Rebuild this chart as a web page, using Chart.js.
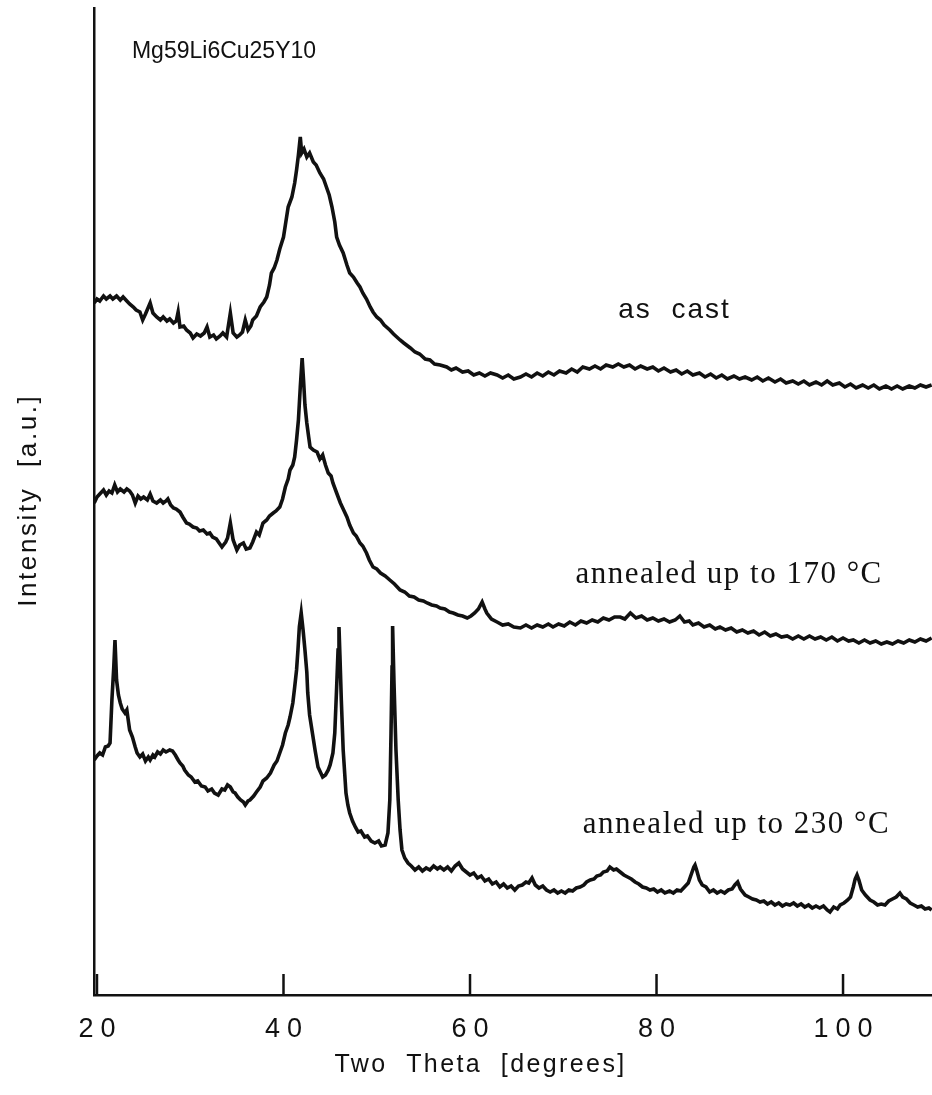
<!DOCTYPE html>
<html>
<head>
<meta charset="utf-8">
<script src="https://cdn.jsdelivr.net/npm/chart.js@4.4.1/dist/chart.umd.min.js"></script>
<style>
  html, body { margin: 0; padding: 0; background: #fff; }
  #wrap { width: 932px; height: 1095px; }
</style>
</head>
<body>
<div id="wrap"><canvas id="xrd" width="932" height="1095"></canvas></div>
<script>
// ---- axis ranges / ticks (two theta in degrees, intensity in a.u.)
const xTicks = [20, 40, 60, 80, 100];
const xMin = 19.68, xMax = 109.54;
const yMin = 0, yMax = 98.7;

// ---- XRD traces: [two theta, intensity]
const asCast = [[19.7,69.2],[20.0,69.6],[20.3,69.4],[20.7,69.9],[21.0,69.6],[21.4,69.9],[21.7,69.6],[22.1,69.9],[22.5,69.5],[22.8,69.8],[23.2,69.4],[23.5,69.1],[23.9,68.8],[24.2,68.5],[24.6,68.3],[24.9,67.5],[25.2,68.1],[25.7,69.2],[26.0,68.2],[26.4,67.8],[26.8,67.5],[27.1,67.8],[27.5,67.4],[27.8,67.6],[28.2,67.2],[28.5,67.4],[28.7,68.3],[28.9,66.8],[29.3,66.9],[29.6,66.5],[30.0,66.2],[30.3,65.7],[30.7,66.1],[31.1,65.9],[31.5,66.2],[31.8,66.8],[32.1,65.8],[32.5,66.0],[32.8,65.6],[33.2,65.9],[33.5,66.2],[33.9,65.8],[34.3,68.2],[34.6,66.2],[35.0,65.8],[35.3,66.0],[35.6,66.3],[35.9,67.5],[36.2,66.5],[36.5,66.9],[36.7,67.5],[37.1,67.9],[37.5,68.8],[37.9,69.3],[38.2,69.8],[38.5,71.0],[38.7,72.2],[39.0,72.7],[39.3,73.5],[39.6,74.6],[40.0,75.8],[40.2,77.0],[40.5,78.8],[40.9,79.8],[41.2,81.2],[41.4,82.5],[41.6,84.0],[41.8,85.8],[41.95,84.2],[42.2,84.6],[42.5,83.8],[42.8,84.2],[43.2,83.3],[43.5,83.0],[43.9,82.2],[44.3,81.6],[44.6,80.8],[44.9,80.0],[45.2,78.8],[45.5,77.3],[45.7,75.8],[46.0,75.0],[46.4,74.2],[46.8,73.0],[47.1,72.2],[47.5,71.8],[47.9,71.2],[48.2,70.8],[48.5,70.2],[48.9,69.6],[49.3,68.8],[49.6,68.3],[50.0,67.8],[50.4,67.5],[50.8,67.0],[51.4,66.5],[51.8,66.1],[52.5,65.5],[52.9,65.2],[53.6,64.7],[54.1,64.3],[54.6,64.1],[55.2,63.6],[55.7,63.5],[56.2,63.1],[56.8,63.0],[57.5,62.8],[58.0,62.5],[58.5,62.7],[59.2,62.3],[59.8,62.4],[60.4,62.0],[61.0,62.2],[61.6,61.9],[62.2,62.2],[62.9,62.0],[63.5,61.7],[64.1,62.0],[64.7,61.6],[65.4,61.8],[66.0,62.1],[66.6,61.8],[67.2,62.2],[67.8,61.9],[68.4,62.3],[69.0,62.0],[69.6,62.4],[70.3,62.2],[70.9,62.6],[71.5,62.3],[72.1,62.8],[72.8,62.6],[73.4,62.9],[74.0,62.6],[74.6,63.0],[75.3,62.8],[75.9,63.1],[76.5,62.8],[77.1,63.0],[77.7,62.6],[78.3,62.9],[79.0,62.6],[79.6,62.8],[80.2,62.4],[80.8,62.7],[81.5,62.3],[82.1,62.5],[82.7,62.1],[83.3,62.4],[83.9,62.0],[84.6,62.2],[85.2,61.8],[85.8,62.1],[86.4,61.7],[87.0,62.0],[87.6,61.6],[88.3,61.9],[88.9,61.6],[89.5,61.8],[90.2,61.5],[90.8,61.8],[91.4,61.4],[92.0,61.7],[92.7,61.3],[93.3,61.6],[93.9,61.2],[94.6,61.4],[95.2,61.1],[95.8,61.4],[96.4,61.0],[97.1,61.3],[97.7,61.0],[98.3,61.4],[98.9,61.0],[99.6,61.2],[100.2,60.8],[100.8,61.1],[101.4,60.7],[102.1,61.0],[102.7,60.7],[103.3,61.0],[103.9,60.6],[104.6,60.9],[105.2,60.6],[105.8,60.9],[106.4,60.6],[107.1,60.9],[107.7,60.7],[108.3,61.0],[108.9,60.8],[109.5,61.0]];

const annealed170 = [[19.7,49.2],[20.0,49.8],[20.3,50.1],[20.7,50.5],[21.0,50.0],[21.3,50.4],[21.6,50.2],[21.9,51.0],[22.2,50.3],[22.5,50.6],[22.9,50.3],[23.2,50.6],[23.5,50.4],[23.8,50.0],[24.1,49.2],[24.4,49.9],[24.7,49.6],[25.0,49.8],[25.4,49.5],[25.7,50.1],[26.0,49.4],[26.4,49.2],[26.8,49.5],[27.1,49.2],[27.4,49.4],[27.6,49.6],[27.9,49.0],[28.2,48.7],[28.5,48.6],[28.9,48.3],[29.2,47.8],[29.6,47.2],[29.9,47.1],[30.3,46.8],[30.7,46.7],[31.0,46.4],[31.4,46.5],[31.8,46.1],[32.1,46.2],[32.4,45.8],[32.8,45.6],[33.1,45.2],[33.4,44.8],[33.8,45.3],[34.0,45.7],[34.3,47.2],[34.6,45.5],[35.0,44.5],[35.3,45.0],[35.7,45.2],[36.0,44.6],[36.4,44.7],[36.7,45.3],[37.1,46.3],[37.4,46.0],[37.8,47.2],[38.2,47.5],[38.5,47.9],[38.9,48.2],[39.2,48.4],[39.6,48.8],[39.9,49.6],[40.2,50.8],[40.5,51.6],[40.7,52.5],[41.0,53.0],[41.2,53.8],[41.4,55.5],[41.6,57.5],[41.8,60.8],[42.0,63.7],[42.15,61.5],[42.3,59.0],[42.5,57.2],[42.7,55.8],[42.85,54.8],[43.2,54.5],[43.6,54.3],[43.9,53.6],[44.2,54.0],[44.5,53.0],[44.8,52.2],[45.1,51.9],[45.3,51.2],[45.7,50.2],[46.1,49.2],[46.4,48.6],[46.8,47.8],[47.1,47.0],[47.5,46.2],[47.8,45.9],[48.2,45.2],[48.5,44.9],[48.9,44.2],[49.2,43.5],[49.6,42.8],[50.0,42.6],[50.4,42.2],[50.9,41.9],[51.4,41.5],[51.9,41.1],[52.5,40.5],[53.0,40.3],[53.5,39.9],[54.0,39.8],[54.5,39.5],[55.0,39.4],[55.4,39.2],[55.9,39.0],[56.4,38.9],[56.8,38.7],[57.3,38.6],[57.8,38.3],[58.2,38.2],[58.7,38.0],[59.2,37.9],[59.7,37.7],[60.1,37.9],[60.5,38.2],[60.9,38.6],[61.3,39.3],[61.6,38.6],[61.8,38.2],[62.3,37.6],[62.9,37.3],[63.5,37.0],[64.1,37.1],[64.7,36.8],[65.4,36.7],[66.0,37.0],[66.6,36.7],[67.2,37.0],[67.8,36.8],[68.4,37.1],[68.9,36.8],[69.5,37.1],[70.1,36.9],[70.7,37.3],[71.3,37.0],[71.9,37.4],[72.5,37.2],[73.1,37.5],[73.7,37.3],[74.3,37.7],[74.9,37.5],[75.5,37.8],[76.1,37.8],[76.6,37.6],[77.2,38.2],[77.8,37.7],[78.4,37.9],[79.0,37.5],[79.6,37.7],[80.2,37.4],[80.8,37.6],[81.4,37.3],[82.0,37.5],[82.5,37.9],[83.0,37.3],[83.5,37.4],[83.9,37.0],[84.5,37.2],[85.1,36.8],[85.7,37.0],[86.3,36.6],[86.8,36.8],[87.4,36.5],[88.0,36.7],[88.6,36.3],[89.2,36.5],[89.8,36.2],[90.4,36.4],[91.0,36.0],[91.6,36.3],[92.2,35.9],[92.8,36.1],[93.4,35.8],[94.0,35.9],[94.6,35.6],[95.2,35.9],[95.8,35.6],[96.4,35.9],[97.0,35.6],[97.6,35.8],[98.2,35.5],[98.8,35.8],[99.4,35.4],[100.0,35.7],[100.6,35.4],[101.1,35.5],[101.7,35.2],[102.3,35.5],[102.9,35.2],[103.5,35.4],[104.1,35.1],[104.7,35.3],[105.3,35.1],[105.9,35.4],[106.5,35.2],[107.1,35.5],[107.7,35.3],[108.3,35.6],[108.9,35.4],[109.5,35.7]];

const annealed230 = [[19.7,23.5],[20.0,23.9],[20.3,24.2],[20.6,24.0],[20.9,24.8],[21.2,24.9],[21.4,25.2],[21.6,29.5],[21.8,32.8],[21.93,35.5],[22.1,31.5],[22.3,30.0],[22.5,29.2],[22.7,28.6],[23.0,28.2],[23.2,28.5],[23.5,26.5],[23.8,25.8],[24.1,24.8],[24.3,24.2],[24.6,23.8],[24.9,24.1],[25.2,23.4],[25.5,23.8],[25.7,23.5],[26.0,24.0],[26.2,23.8],[26.5,24.3],[26.8,24.1],[27.1,24.5],[27.4,24.3],[27.8,24.5],[28.1,24.4],[28.4,24.0],[28.7,23.5],[28.9,23.2],[29.2,22.9],[29.4,22.5],[29.8,22.0],[30.1,21.8],[30.5,21.3],[30.8,21.4],[31.2,20.9],[31.6,20.8],[31.9,20.4],[32.3,20.6],[32.6,20.2],[33.0,20.0],[33.4,20.6],[33.7,20.5],[34.0,21.0],[34.3,20.8],[34.6,20.3],[34.8,20.2],[35.1,19.8],[35.4,19.5],[35.7,19.3],[35.9,19.0],[36.2,19.4],[36.4,19.5],[36.8,19.9],[37.1,20.3],[37.5,20.8],[37.8,21.4],[38.2,21.7],[38.6,22.2],[39.0,23.0],[39.3,23.4],[39.6,24.2],[39.9,25.0],[40.2,26.2],[40.5,27.0],[40.7,27.8],[41.0,29.2],[41.2,30.8],[41.4,32.5],[41.55,34.5],[41.7,36.8],[41.9,38.2],[42.1,36.5],[42.3,34.5],[42.5,32.3],[42.6,30.2],[42.8,28.0],[43.1,26.2],[43.4,24.4],[43.7,22.8],[44.0,22.2],[44.2,21.8],[44.5,22.0],[44.8,22.5],[45.0,23.0],[45.3,24.2],[45.5,26.2],[45.7,30.8],[45.85,34.5],[45.95,36.8],[46.05,34.0],[46.2,29.5],[46.4,24.5],[46.7,20.2],[46.9,19.0],[47.1,18.2],[47.4,17.4],[47.7,16.8],[48.0,16.3],[48.3,16.4],[48.7,15.8],[49.0,15.9],[49.4,15.4],[49.8,15.2],[50.2,15.4],[50.5,14.9],[50.9,15.0],[51.2,16.2],[51.4,19.5],[51.53,26.2],[51.64,32.8],[51.7,36.9],[51.85,31.2],[52.06,24.5],[52.3,19.5],[52.5,16.5],[52.7,14.5],[53.0,13.7],[53.35,13.2],[53.7,12.9],[54.1,12.5],[54.5,12.8],[54.9,12.4],[55.3,12.7],[55.7,12.5],[56.1,12.9],[56.5,12.6],[56.8,12.8],[57.2,12.5],[57.6,12.8],[58.0,12.4],[58.4,12.9],[58.8,13.2],[59.2,12.6],[59.6,12.3],[60.0,12.0],[60.4,12.2],[60.8,11.7],[61.2,11.9],[61.6,11.4],[62.0,11.6],[62.4,11.1],[62.8,11.3],[63.2,10.8],[63.6,11.1],[64.0,10.7],[64.4,10.9],[64.8,10.5],[65.2,10.9],[65.6,11.0],[66.0,11.3],[66.3,11.2],[66.65,11.7],[67.0,11.0],[67.4,10.7],[67.8,10.9],[68.2,10.5],[68.6,10.3],[69.0,10.5],[69.4,10.2],[69.8,10.4],[70.2,10.2],[70.6,10.5],[71.0,10.4],[71.4,10.7],[71.8,10.8],[72.2,11.0],[72.5,11.3],[72.9,11.5],[73.3,11.6],[73.6,11.9],[74.0,12.0],[74.3,12.3],[74.7,12.4],[75.0,12.8],[75.4,12.5],[75.7,12.6],[76.1,12.3],[76.5,12.0],[76.9,11.8],[77.3,11.6],[77.7,11.3],[78.1,11.1],[78.5,10.8],[78.9,10.7],[79.3,10.5],[79.7,10.6],[80.1,10.3],[80.5,10.5],[80.9,10.2],[81.4,10.4],[81.8,10.2],[82.2,10.5],[82.6,10.4],[83.0,10.8],[83.4,11.2],[83.7,12.0],[84.0,12.8],[84.13,13.0],[84.3,12.5],[84.6,11.5],[84.9,11.0],[85.3,10.8],[85.7,10.3],[86.1,10.5],[86.5,10.2],[86.9,10.4],[87.3,10.2],[87.7,10.5],[88.1,10.6],[88.4,11.0],[88.7,11.3],[89.0,10.6],[89.5,10.0],[89.9,9.8],[90.3,9.6],[90.7,9.5],[91.1,9.3],[91.5,9.4],[91.9,9.1],[92.3,9.3],[92.7,9.0],[93.1,9.2],[93.5,8.9],[93.9,9.1],[94.3,9.0],[94.7,9.2],[95.1,8.9],[95.5,9.1],[95.9,8.8],[96.3,9.0],[96.7,8.7],[97.1,8.9],[97.5,8.7],[97.9,8.9],[98.3,8.5],[98.6,8.3],[99.0,8.8],[99.4,8.6],[99.7,9.0],[100.1,9.2],[100.5,9.5],[100.8,9.8],[101.1,10.8],[101.3,11.6],[101.5,12.0],[101.7,11.5],[102.0,10.5],[102.4,10.0],[102.9,9.5],[103.3,9.3],[103.7,9.0],[104.1,9.1],[104.5,9.0],[104.9,9.4],[105.3,9.6],[105.7,9.8],[106.1,10.2],[106.4,9.8],[106.8,9.6],[107.2,9.2],[107.6,9.0],[108.0,8.8],[108.4,8.9],[108.8,8.6],[109.2,8.7],[109.5,8.5]];

// ---- texts
const sampleName = "Mg59Li6Cu25Y10";
const xTitle = "Two  Theta  [degrees]";
const yTitle = "Intensity  [a.u.]";
const curveLabels = ["as  cast", "annealed up to 170 °C", "annealed up to 230 °C"];

const ink = "#111";
const sans = '"Liberation Sans", Arial, sans-serif';
const serif = '"Liberation Serif", "Times New Roman", serif';

// draw text with letter spacing, anchored left or centered
function spacedText(ctx, text, x, y, font, spacing, align) {
    ctx.save();
    ctx.font = font;
    ctx.fillStyle = ink;
    ctx.textBaseline = "alphabetic";
    ctx.textAlign = "left";
    if ("letterSpacing" in ctx) ctx.letterSpacing = spacing + "px";
    let w = ctx.measureText(text).width - spacing;
    let sx = align === "center" ? x - w / 2 : x;
    ctx.fillText(text, sx, y);
    ctx.restore();
}

// axes decoration: inward ticks, numbers, titles, annotations
const decorations = {
    id: "decorations",
    afterDraw(chart) {
        const ctx = chart.ctx;
        const xs = chart.scales.x, ys = chart.scales.y;
        const area = chart.chartArea;

        ctx.save();
        ctx.strokeStyle = ink;
        ctx.lineWidth = 2.5;
        xTicks.forEach(v => {
            const px = xs.getPixelForValue(v);
            ctx.beginPath();
            ctx.moveTo(px, area.bottom);
            ctx.lineTo(px, area.bottom - 21);
            ctx.stroke();
            spacedText(ctx, String(v), px, area.bottom + 42, "27px " + sans, 7, "center");
        });
        ctx.restore();

        spacedText(ctx, xTitle, xs.getPixelForValue(61), area.bottom + 77, "25px " + sans, 2.4, "center");

        // rotated y title
        ctx.save();
        ctx.translate(36, (area.top + area.bottom) / 2);
        ctx.rotate(-Math.PI / 2);
        spacedText(ctx, yTitle, 0, 0, "26px " + sans, 2.6, "center");
        ctx.restore();

        spacedText(ctx, sampleName, xs.getPixelForValue(23.75), ys.getPixelForValue(93.7), "23px " + sans, 0, "left");
        spacedText(ctx, curveLabels[0], xs.getPixelForValue(75.9), ys.getPixelForValue(67.7), "28px " + sans, 2, "left");
        spacedText(ctx, curveLabels[1], xs.getPixelForValue(71.3), ys.getPixelForValue(41.2), "31px " + serif, 1.5, "left");
        spacedText(ctx, curveLabels[2], xs.getPixelForValue(72.1), ys.getPixelForValue(16.2), "31px " + serif, 1.5, "left");
    }
};

const toPts = arr => arr.map(p => ({ x: p[0], y: p[1] }));
const trace = data => ({
    data: toPts(data),
    borderColor: ink,
    borderWidth: 3.6,
    pointRadius: 0,
    tension: 0,
    fill: false
});

new Chart(document.getElementById("xrd"), {
    type: "line",
    data: { datasets: [trace(asCast), trace(annealed170), trace(annealed230)] },
    options: {
        responsive: false,
        animation: false,
        layout: { padding: { top: 8, right: 0, left: 0, bottom: 0 } },
        plugins: { legend: { display: false }, tooltip: { enabled: false } },
        scales: {
            x: {
                type: "linear", min: xMin, max: xMax,
                grid: { display: false },
                border: { display: true, color: ink, width: 2.5 },
                ticks: { display: false },
                afterFit(s) { s.height = 100; }
            },
            y: {
                type: "linear", min: yMin, max: yMax,
                grid: { display: false },
                border: { display: true, color: ink, width: 2.5 },
                ticks: { display: false },
                afterFit(s) { s.width = 94; }
            }
        }
    },
    plugins: [decorations]
});
</script>
</body>
</html>
